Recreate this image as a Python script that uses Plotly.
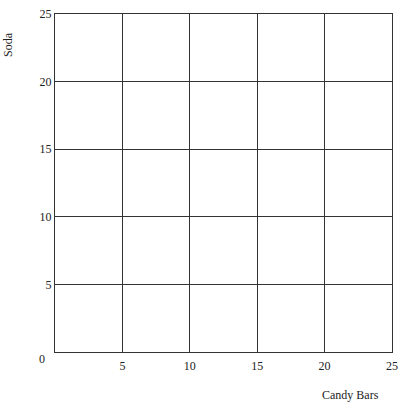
import plotly.graph_objects as go

# axis setup
x_ticks = [5, 10, 15, 20, 25]
y_ticks = [5, 10, 15, 20, 25]
x_range = [0, 25]
y_range = [0, 25]
x_title = "Candy Bars"
y_title = "Soda"

font = dict(family="Liberation Serif, Times New Roman, serif", size=12, color="#222")
grid = "#333"

fig = go.Figure()
# empty trace so the axes exist
fig.add_trace(go.Scatter(x=[], y=[], mode="markers", showlegend=False))

fig.update_xaxes(
    range=x_range, tickvals=x_ticks, showgrid=True, gridcolor=grid, gridwidth=1,
    showline=True, linecolor=grid, linewidth=1, mirror=True, zeroline=False,
    ticks="", ticklabelstandoff=3, tickfont=font, automargin=False,
)
fig.update_yaxes(
    range=y_range, tickvals=y_ticks, showgrid=True, gridcolor=grid, gridwidth=1,
    showline=True, linecolor=grid, linewidth=1, mirror=True, zeroline=False,
    ticks="", ticklabelstandoff=0, tickfont=font, automargin=False,
)

# origin label sits a bit below / left of the corner
fig.add_annotation(text="0", x=0, y=0, xref="paper", yref="paper", xanchor="right",
                   yanchor="middle", xshift=-8, yshift=-7, showarrow=False, font=font)
fig.add_annotation(text=y_title, x=0, y=1, xref="paper", yref="paper", textangle=-90,
                   xanchor="center", yanchor="middle", xshift=-47, yshift=-31,
                   showarrow=False, font=font)
fig.add_annotation(text=x_title, x=1, y=0, xref="paper", yref="paper",
                   xanchor="center", yanchor="middle", xshift=-42, yshift=-43,
                   showarrow=False, font=font)

fig.update_layout(
    width=403, height=403,
    margin=dict(l=55, r=11, t=14, b=51, autoexpand=False),
    plot_bgcolor="white", paper_bgcolor="white",
)

# drop the default body margin and scrollbars so the figure fills the window
fig.write_html(
    "out.html",
    config={"displayModeBar": False},
    post_script="document.body.style.margin='0';"
                "document.documentElement.style.overflow='hidden';",
)
